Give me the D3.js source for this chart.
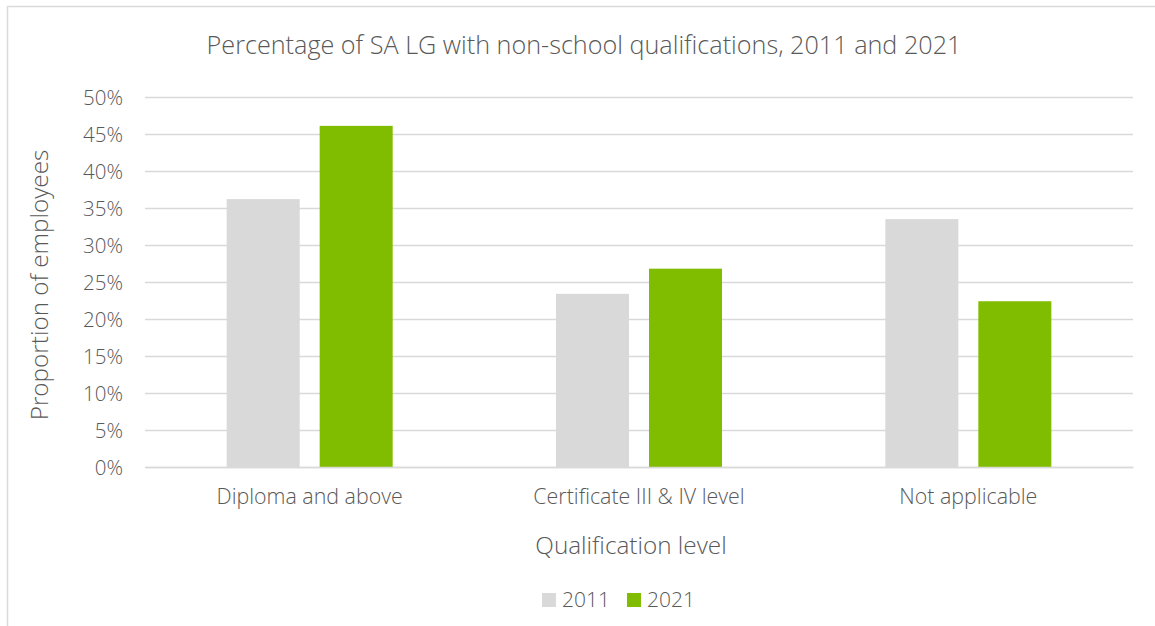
<!DOCTYPE html>
<html>
<head>
<meta charset="utf-8">
<script src="https://cdn.jsdelivr.net/npm/d3@7"></script>
<style>
  body { margin: 0; background: #fff; }
  svg text { font-family: "Open Sans", "Noto Sans", sans-serif; fill: #595959; font-weight: 300; }
</style>
</head>
<body>
<div id="chart"></div>
<script>
// data
var categories = ["Diploma and above", "Certificate III & IV level", "Not applicable"];
var years = ["2011", "2021"];
var values2011 = [36.2, 23.4, 33.5];
var values2021 = [46.1, 26.8, 22.4];
var yTicks = [0, 5, 10, 15, 20, 25, 30, 35, 40, 45, 50];
var colors = ["#d9d9d9", "#80bd00"];

function init() {
    var w = 1155;
    var h = 626;
    var left = 145, right = 1133, top = 97, bottom = 467;

    var svg = d3.select("#chart")
        .append("svg")
        .attr("width", w)
        .attr("height", h);

    // chart frame (right and bottom edges fall outside the picture)
    svg.append("rect")
        .attr("x", 7.5)
        .attr("y", 6.5)
        .attr("width", 1200)
        .attr("height", 700)
        .attr("fill", "none")
        .attr("stroke", "#d9d9d9")
        .attr("stroke-width", 1.5);

    var rows = categories.map(function(c, i) {
        return { cat: c, vals: [values2011[i], values2021[i]] };
    });

    var xScale = d3.scaleBand()
        .domain(categories)
        .range([left, right])
        .padding(0);

    var xInner = d3.scaleBand()
        .domain(years)
        .range([0, xScale.bandwidth()])
        .paddingInner(0.215)
        .paddingOuter(0.878);

    var yScale = d3.scaleLinear()
        .domain([0, 50])
        .range([bottom, top]);

    // gridlines
    var yAxis = d3.axisLeft(yScale)
        .tickValues(yTicks)
        .tickSize(-(right - left))
        .tickFormat(function(d) { return d + "%"; });

    var gy = svg.append("g")
        .attr("transform", "translate(" + left + ",0)")
        .call(yAxis);
    gy.select(".domain").remove();
    gy.selectAll(".tick line")
        .attr("stroke", "#d9d9d9")
        .attr("stroke-width", 1.5);
    gy.selectAll(".tick text")
        .attr("x", -22)
        .style("font-size", "20.5px")
        .attr("dy", "0.35em");

    // bars
    var groups = svg.selectAll("g.cat")
        .data(rows)
        .enter()
        .append("g")
        .attr("class", "cat")
        .attr("transform", function(d) { return "translate(" + xScale(d.cat) + ",0)"; });

    groups.selectAll("rect")
        .data(function(d) { return d.vals.map(function(v, j) { return { year: years[j], v: v, j: j }; }); })
        .enter()
        .append("rect")
        .attr("x", function(d) { return xInner(d.year); })
        .attr("y", function(d) { return yScale(d.v); })
        .attr("width", xInner.bandwidth())
        .attr("height", function(d) { return yScale(0) - yScale(d.v); })
        .attr("fill", function(d) { return colors[d.j]; });

    // x axis
    var xAxis = d3.axisBottom(xScale).tickSize(0).tickPadding(22);
    var gx = svg.append("g")
        .attr("transform", "translate(0," + bottom + ")")
        .call(xAxis);
    gx.select(".domain")
        .attr("stroke", "#d9d9d9")
        .attr("stroke-width", 1.5);
    gx.selectAll(".tick text")
        .style("font-size", "21.4px");

    // titles
    svg.append("text")
        .attr("x", 584)
        .attr("y", 54)
        .attr("text-anchor", "middle")
        .style("font-size", "25.2px")
        .text("Percentage of SA LG with non-school qualifications, 2011 and 2021");

    svg.append("text")
        .attr("x", 631)
        .attr("y", 554)
        .attr("text-anchor", "middle")
        .style("font-size", "24.3px")
        .text("Qualification level");

    svg.append("text")
        .attr("transform", "translate(48," + ((top + bottom) / 2 + 3) + ") rotate(-90)")
        .attr("text-anchor", "middle")
        .style("font-size", "24.3px")
        .text("Proportion of employees");

    // legend
    var legendX = [542, 627];
    var legend = svg.selectAll("g.legend")
        .data(years)
        .enter()
        .append("g")
        .attr("class", "legend")
        .attr("transform", function(d, i) { return "translate(" + legendX[i] + ",593)"; });
    legend.append("rect")
        .attr("width", 14)
        .attr("height", 14)
        .attr("fill", function(d, i) { return colors[i]; });
    legend.append("text")
        .attr("x", 20)
        .attr("y", 14)
        .style("font-size", "21px")
        .text(function(d) { return d; });
}

window.onload = init;
</script>
</body>
</html>
